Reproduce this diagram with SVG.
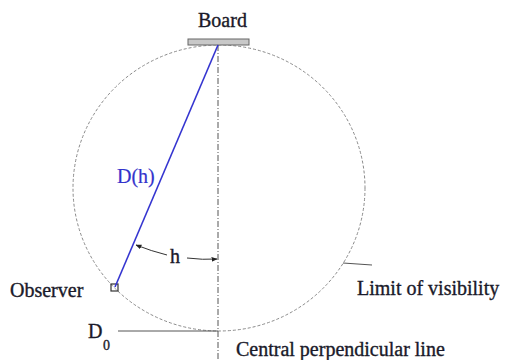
<svg xmlns="http://www.w3.org/2000/svg" width="507" height="360" viewBox="0 0 507 360">
<style>
text{font-family:'Liberation Serif','Times New Roman',serif;font-size:20px;fill:#1a1a2a;stroke:#1a1a2a;stroke-width:0.35}
.blue{fill:#3333cc;stroke:#3333cc;stroke-width:0.2}
.circ{fill:none;stroke:#8a8a8a;stroke-width:1;stroke-dasharray:3 2}
.ctr{fill:none;stroke:#555;stroke-width:1;stroke-dasharray:6 2 1 2}
.thin{fill:none;stroke:#555;stroke-width:1}
.arc{fill:none;stroke:#333;stroke-width:1;marker-end:url(#ah)}
</style>
<defs>
<marker id="ah" viewBox="0 0 10 10" refX="9" refY="5" markerWidth="6" markerHeight="6" orient="auto">
<path d="M0,1 L10,5 L0,9 z" fill="#222"/>
</marker>
</defs>
<rect width="507" height="360" fill="#fff"/>
<g id="visibility-circle">
<ellipse class="circ" cx="219" cy="188" rx="146" ry="143"/>
</g>
<g id="board">
<rect x="188" y="39" width="61" height="6" fill="#c8c8c8" stroke="#666" stroke-width="1"/>
<text x="198" y="27">Board</text>
</g>
<g id="observer">
<rect x="111" y="284" width="7" height="7" fill="none" stroke="#333" stroke-width="1.2"/>
<text x="10" y="297">Observer</text>
</g>
<g id="connectors">
<line class="ctr" x1="218" y1="45" x2="218" y2="360"/>
<line x1="218" y1="45" x2="115" y2="287" stroke="#3535d0" stroke-width="1.6"/>
<line class="thin" x1="118" y1="331" x2="218" y2="331"/>
<line class="thin" x1="343" y1="263" x2="372" y2="265"/>
<path class="arc" d="M167,255 Q151,251 136,245"/>
<path class="arc" d="M187,258 Q203,260 217,259"/>
</g>
<g id="labels">
<text x="117" y="183" class="blue">D(h)</text>
<text x="170" y="263">h</text>
<text x="88" y="338">D</text>
<text x="103" y="350" style="font-size:14px">0</text>
<text x="357" y="295">Limit of visibility</text>
<text x="236" y="356">Central perpendicular line</text>
</g>
</svg>
